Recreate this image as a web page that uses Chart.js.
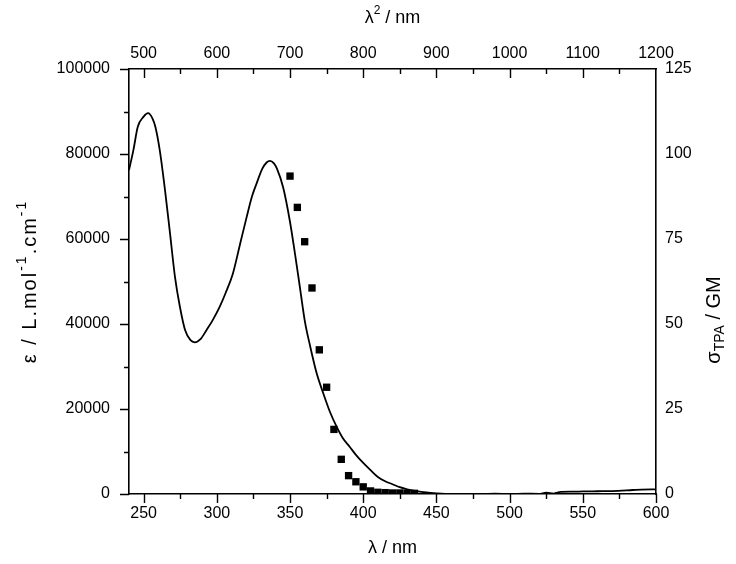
<!DOCTYPE html>
<html>
<head>
<meta charset="utf-8">
<script src="https://cdn.jsdelivr.net/npm/chart.js@4"></script>
<style>
  html, body { margin: 0; padding: 0; background: #fff; }
  #wrap { width: 736px; height: 564px; }
</style>
</head>
<body>
<div id="wrap"><canvas id="myChart" width="736" height="564"></canvas></div>
<script>
// absorption spectrum (left axis)
const absWl = [240, 243, 246, 250, 253, 256, 258, 261, 264.6, 268, 271.4, 274.8, 278.3, 282, 285, 289, 293, 297, 302, 306, 311, 316, 320.4, 324, 327.2, 331, 334, 336.3, 339, 341, 345.4, 350, 353.4, 356.8, 360.2, 363.6, 368.2, 372.7, 377.3, 381.9, 386, 391, 395, 400, 405, 410, 415, 420, 425, 430, 436, 443, 450, 460, 470, 480, 490, 500, 510, 520, 525, 530, 535, 543, 550, 560, 570, 584, 590, 600];
const absEps = [76200, 80900, 86400, 88800, 89600, 88400, 86400, 80900, 71500, 61400, 51100, 44000, 38600, 36200, 35700, 36500, 38600, 40800, 44100, 47300, 51900, 59000, 65200, 70000, 73100, 76500, 78000, 78400, 77800, 76600, 72000, 64000, 56500, 48500, 40500, 35000, 28400, 23700, 19300, 15800, 13200, 11000, 9200, 7300, 5600, 4000, 3000, 2300, 1600, 1100, 700, 350, 150, 0, 0, 0, 100, 0, 100, 50, 300, 100, 500, 550, 600, 650, 700, 940, 1050, 1100];

// two-photon cross section (right axis)
const tpaWl = [350, 355, 360, 365, 370, 375, 380, 385, 390, 395, 400, 405, 410, 415, 420, 425, 430, 435];
const tpaGM = [93.5, 84.3, 74.2, 60.6, 42.4, 31.4, 19.0, 10.2, 5.4, 3.6, 2.1, 0.9, 0.5, 0.4, 0.3, 0.3, 0.2, 0.2];

// tick labels
const xTicks = [250, 300, 350, 400, 450, 500, 550, 600];
const x2Ticks = [500, 600, 700, 800, 900, 1000, 1100, 1200];
const yTicks = [0, 20000, 40000, 60000, 80000, 100000];
const y2Ticks = [0, 25, 50, 75, 100, 125];

const tickFont = { family: 'Liberation Sans, Arial, sans-serif', size: 16 };
const titleFont = '18px "Liberation Sans", Arial, sans-serif';
const subFont = '12px "Liberation Sans", Arial, sans-serif';
const sideFont = '20px "Liberation Sans", Arial, sans-serif';
const sideSub = '14px "Liberation Sans", Arial, sans-serif';

function fixTicks(list) {
    return scale => { scale.ticks = list.map(v => ({ value: v })); };
}

function fixSize(w, h) {
    return scale => {
        if (w !== null) scale.width = w;
        if (h !== null) scale.height = h;
    };
}

const plain = v => String(v);

// minor/major tick marks and axis titles drawn by hand
const axisDecor = {
    id: 'axisDecor',
    afterDraw(chart) {
        const { ctx, chartArea: a, scales } = chart;
        ctx.save();
        ctx.strokeStyle = '#000';
        ctx.lineWidth = 1.4;
        ctx.beginPath();
        // bottom, outward
        for (let v = 250; v <= 600; v += 25) {
            const px = Math.round(scales.x.getPixelForValue(v)) + 0.5;
            const len = v % 50 === 0 ? 9 : 5;
            ctx.moveTo(px, a.bottom); ctx.lineTo(px, a.bottom + len);
        }
        // top, inward
        for (let v = 500; v < 1200; v += 50) {
            const px = Math.round(scales.x2.getPixelForValue(v)) + 0.5;
            const len = v % 100 === 0 ? 9 : 5;
            ctx.moveTo(px, a.top); ctx.lineTo(px, a.top + len);
        }
        // left, outward
        for (let v = 0; v <= 100000; v += 10000) {
            const py = Math.round(scales.y.getPixelForValue(v)) + 0.5;
            const len = v % 20000 === 0 ? 9 : 5;
            ctx.moveTo(a.left, py); ctx.lineTo(a.left - len, py);
        }
        ctx.stroke();

        ctx.fillStyle = '#000';
        const cx = (a.left + a.right) / 2;
        const cy = (a.top + a.bottom) / 2;

        // bottom title
        ctx.font = titleFont;
        ctx.textAlign = 'center';
        ctx.textBaseline = 'middle';
        ctx.fillText('λ / nm', cx, 548);

        // top title with superscript
        drawRich(ctx, [['λ', titleFont, 0], ['2', subFont, -7], [' / nm', titleFont, 0]], cx, 18, 0, 0);

        // left title
        drawRich(ctx, [['ε / L.mol', sideFont, 0], ['-1', sideSub, -8], ['.cm', sideFont, 0], ['-1', sideSub, -8]], 30, cy, -Math.PI / 2, 2);

        // right title
        drawRich(ctx, [['σ', sideFont, 0], ['TPA', sideSub, 6], [' / GM', sideFont, 0]], 714, 320, -Math.PI / 2, 0);

        ctx.restore();
    }
};

function drawRich(ctx, parts, x, y, rot, spacing) {
    ctx.save();
    ctx.translate(x, y);
    ctx.rotate(rot);
    ctx.textBaseline = 'middle';
    ctx.textAlign = 'left';
    ctx.letterSpacing = spacing + 'px';
    let total = 0;
    parts.forEach(p => { ctx.font = p[1]; total += ctx.measureText(p[0]).width; });
    let cur = -total / 2;
    parts.forEach(p => {
        ctx.font = p[1];
        ctx.fillText(p[0], cur, p[2]);
        cur += ctx.measureText(p[0]).width;
    });
    ctx.restore();
}

const ctx = document.getElementById('myChart').getContext('2d');

const chart = new Chart(ctx, {
    type: 'scatter',
    data: {
        datasets: [
            {
                label: 'absorption',
                data: absWl.map((w, i) => ({ x: w, y: absEps[i] })),
                showLine: true,
                borderColor: '#000',
                borderWidth: 1.8,
                pointRadius: 0,
                cubicInterpolationMode: 'monotone',
                xAxisID: 'x',
                yAxisID: 'y'
            },
            {
                label: 'TPA',
                data: tpaWl.map((w, i) => ({ x: w, y: tpaGM[i] })),
                showLine: false,
                pointStyle: 'rect',
                pointRadius: 5.2,
                backgroundColor: '#000',
                borderColor: '#000',
                borderWidth: 0,
                xAxisID: 'x',
                yAxisID: 'y2'
            }
        ]
    },
    options: {
        responsive: false,
        animation: false,
        layout: { padding: 0 },
        plugins: {
            legend: { display: false },
            tooltip: { enabled: false }
        },
        scales: {
            x: {
                type: 'linear',
                position: 'bottom',
                min: 240,
                max: 600,
                grid: { display: false },
                border: { display: true, color: '#000', width: 1.6 },
                ticks: { color: '#000', font: tickFont, padding: 2, maxRotation: 0, callback: plain },
                afterBuildTicks: fixTicks(xTicks),
                afterFit: fixSize(null, 70)
            },
            x2: {
                type: 'linear',
                position: 'top',
                min: 480,
                max: 1200,
                grid: { display: false },
                border: { display: true, color: '#000', width: 1.6 },
                ticks: { color: '#000', font: tickFont, padding: -2, maxRotation: 0, callback: plain },
                afterBuildTicks: fixTicks(x2Ticks),
                afterFit: fixSize(null, 69)
            },
            y: {
                type: 'linear',
                position: 'left',
                min: 0,
                max: 100000,
                grid: { display: false },
                border: { display: true, color: '#000', width: 1.6 },
                ticks: { color: '#000', font: tickFont, padding: 11, callback: plain },
                afterBuildTicks: fixTicks(yTicks),
                afterFit: fixSize(129, null)
            },
            y2: {
                type: 'linear',
                position: 'right',
                min: 0,
                max: 125,
                grid: { display: false },
                border: { display: true, color: '#000', width: 1.6 },
                ticks: { color: '#000', font: tickFont, padding: 1, callback: plain },
                afterBuildTicks: fixTicks(y2Ticks),
                afterFit: fixSize(80, null)
            }
        }
    },
    plugins: [axisDecor]
});
</script>
</body>
</html>
